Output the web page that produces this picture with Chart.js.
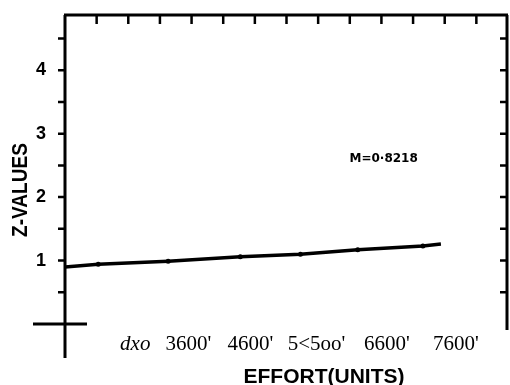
<!DOCTYPE html>
<html>
<head>
<meta charset="utf-8">
<script src="https://cdn.jsdelivr.net/npm/chart.js@4/dist/chart.umd.min.js"></script>
<style>
  html, body { margin: 0; padding: 0; background: #fff; }
  canvas { display: block; }
</style>
</head>
<body>
<canvas id="chart" width="510" height="385"></canvas>
<script>
// effort position (in top-tick intervals) and z-value
const effortX = [0, 1.05, 3.26, 5.54, 7.44, 9.25, 11.31, 11.88];
const zValues = [0.90, 0.94, 0.99, 1.06, 1.10, 1.17, 1.23, 1.26];

// bottom labels, exactly as printed, and where they sit
const xTickLabels = ["dxo", "3600'", "4600'", "5<5oo'", "6600'", "7600'"];
const xTickPos = [2.22, 3.9, 5.86, 7.95, 10.17, 12.35];

const yTickLabels = [1, 2, 3, 4];
const yHalfTicks = [0.5, 1, 1.5, 2, 2.5, 3, 3.5, 4, 4.5];
const topTickCount = 14;

const xTitle = 'EFFORT(UNITS)';
const yTitle = 'Z-VALUES';
const noteText = 'M=0\u00b78218';
const notePos = { x: 10.07, y: 2.61 };

const X_MAX = 14;
const Y_MAX = 4.87;

// frame, ticks, crosshair and texts like the old plot
const framePlugin = {
    id: 'frame',
    afterDraw(chart) {
        const ctx = chart.ctx;
        const xs = chart.scales.x;
        const ys = chart.scales.y;
        const left = xs.left, right = xs.right - 1;
        const top = ys.top, bottom = ys.bottom;

        ctx.save();
        ctx.strokeStyle = '#000';
        ctx.lineWidth = 3;
        ctx.lineCap = 'butt';

        ctx.beginPath();
        // top line
        ctx.moveTo(left - 1, top);
        ctx.lineTo(right + 1, top);
        // left axis runs past the origin
        ctx.moveTo(left, top);
        ctx.lineTo(left, bottom + 34);
        // right axis
        ctx.moveTo(right, top);
        ctx.lineTo(right, bottom + 6);
        // crosshair at the origin
        ctx.moveTo(left - 32, bottom);
        ctx.lineTo(left + 22, bottom);
        ctx.stroke();

        // ticks along the top, pointing down
        ctx.lineWidth = 2.5;
        ctx.beginPath();
        for (let i = 1; i < topTickCount; i++) {
            const px = xs.getPixelForValue(i);
            ctx.moveTo(px, top);
            ctx.lineTo(px, top + 9);
        }
        // half-unit ticks: outward on the left, inward on the right
        yHalfTicks.forEach(v => {
            const py = ys.getPixelForValue(v);
            ctx.moveTo(left - 7, py);
            ctx.lineTo(left, py);
            ctx.moveTo(right - 7, py);
            ctx.lineTo(right, py);
        });
        ctx.stroke();

        ctx.fillStyle = '#000';

        // note
        ctx.font = 'bold 12px "DejaVu Sans"';
        ctx.textAlign = 'center';
        ctx.textBaseline = 'middle';
        ctx.fillText(noteText, xs.getPixelForValue(notePos.x), ys.getPixelForValue(notePos.y));

        // x title
        ctx.font = 'bold 21px "Liberation Sans"';
        ctx.fillText(xTitle, 324, 377);

        // y title, squeezed a little like the scan
        ctx.translate(20, 190);
        ctx.rotate(-Math.PI / 2);
        ctx.font = 'bold 22px "Liberation Sans"';
        const w = ctx.measureText(yTitle).width;
        ctx.scale(94 / w, 1);
        ctx.fillText(yTitle, 0, 1);
        ctx.restore();
    }
};

new Chart(document.getElementById('chart'), {
    type: 'line',
    data: {
        datasets: [{
            data: effortX.map((x, i) => ({ x: x, y: zValues[i] })),
            borderColor: '#000',
            backgroundColor: '#000',
            borderWidth: 3.5,
            pointRadius: ctx => (ctx.dataIndex === 0 || ctx.dataIndex === effortX.length - 1) ? 0 : 2.5,
            pointBorderWidth: 0,
            tension: 0,
            fill: false
        }]
    },
    options: {
        responsive: false,
        animation: false,
        devicePixelRatio: 1,
        layout: { padding: { top: 15, right: 2, left: 0, bottom: 0 } },
        plugins: {
            legend: { display: false },
            tooltip: { enabled: false }
        },
        scales: {
            x: {
                type: 'linear',
                position: 'bottom',
                min: 0,
                max: X_MAX,
                grid: { display: false, drawTicks: false },
                border: { display: false },
                afterBuildTicks: scale => {
                    scale.ticks = xTickPos.map(v => ({ value: v }));
                },
                afterFit: scale => {
                    scale.height = 61;
                    scale.paddingLeft = 0;
                    scale.paddingRight = 0;
                },
                ticks: {
                    autoSkip: false,
                    maxRotation: 0,
                    padding: 8,
                    color: '#000',
                    font: ctx => ({
                        family: '"Liberation Serif", "Times New Roman", serif',
                        size: 21,
                        style: ctx.index === 0 ? 'italic' : 'normal'
                    }),
                    callback: (value, index) => xTickLabels[index]
                }
            },
            y: {
                type: 'linear',
                min: 0,
                max: Y_MAX,
                grid: { display: false, drawTicks: false },
                border: { display: false },
                afterBuildTicks: scale => {
                    scale.ticks = yTickLabels.map(v => ({ value: v }));
                },
                afterFit: scale => {
                    scale.width = 65;
                    scale.paddingTop = 0;
                    scale.paddingBottom = 0;
                },
                ticks: {
                    padding: 19,
                    color: '#000',
                    font: { family: '"Liberation Sans"', size: 18, weight: 'bold' },
                    callback: value => String(value)
                }
            }
        }
    },
    plugins: [framePlugin]
});
</script>
</body>
</html>
